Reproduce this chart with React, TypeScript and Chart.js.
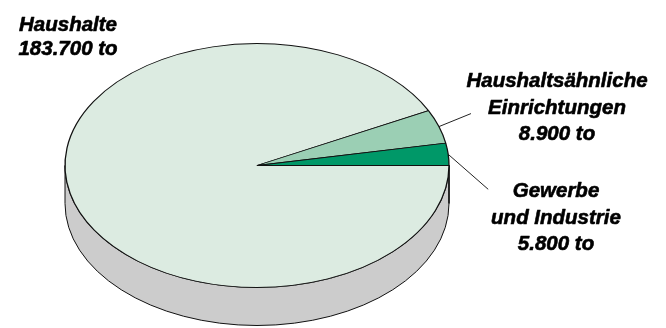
import React, { useEffect, useRef } from "react";
import { Chart, registerables } from "chart.js";

Chart.register(...registerables);

// ---- data ----
const CATEGORIES: string[][] = [
  ["Haushalte"],
  ["Haushaltsähnliche", "Einrichtungen"],
  ["Gewerbe", "und Industrie"],
];
const VALUES: number[] = [183700, 8900, 5800];
const UNIT = "to";

// ---- styles ----
const TOP_COLORS = ["#dcebe1", "#9bcfb4", "#009868"];
const SIDE_COLORS = ["#cccccc", "#7fae95", "#007a54"];

// ---- layout (screen geometry of the tilted pie) ----
const CX = 257;
const CY = 165.5;
const RX = 192;
const RY = 122;
const DEPTH = 38;

const LABEL_LAYOUT = [
  { x: 68, y: 31, lh: 24, leader: null as null | [number, number] },
  { x: 557, y: 87, lh: 26.5, leader: [32, -13] as [number, number] },
  { x: 556, y: 197, lh: 26.5, leader: [40, 35] as [number, number] },
];

const FONT = 'italic bold 20.5px "Liberation Sans", Arial, sans-serif';

const fmt = (v: number) =>
  String(v).replace(/\B(?=(\d{3})+(?!\d))/g, ".") + " " + UNIT;

const pie3d = {
  id: "pie3d",
  beforeDatasetsDraw(chart: any) {
    const ctx = chart.ctx as CanvasRenderingContext2D;
    const meta = chart.getDatasetMeta(0);
    const arcs = meta.data as any[];
    if (!arcs.length) return;
    const a0 = arcs[0];
    const R = a0.outerRadius;
    // side wall (front half: angles 0..PI)
    ctx.save();
    arcs.forEach((arc, i) => {
      for (const shift of [0, -2 * Math.PI, 2 * Math.PI]) {
        const s = Math.max(arc.startAngle + shift, 0);
        const e = Math.min(arc.endAngle + shift, Math.PI);
        if (e <= s) continue;
        ctx.beginPath();
        ctx.moveTo(CX + RX * Math.cos(s), CY + RY * Math.sin(s));
        ctx.ellipse(CX, CY, RX, RY, 0, s, e, false);
        ctx.lineTo(CX + RX * Math.cos(e), CY + DEPTH + RY * Math.sin(e));
        ctx.ellipse(CX, CY + DEPTH, RX, RY, 0, e, s, true);
        ctx.closePath();
        ctx.fillStyle = SIDE_COLORS[i];
        ctx.fill();
        ctx.lineWidth = 1;
        ctx.strokeStyle = "#111";
        ctx.stroke();
      }
    });
    ctx.restore();
    // tilt transform for the top surface
    ctx.save();
    ctx.translate(CX, CY);
    ctx.scale(RX / R, RY / R);
    ctx.translate(-a0.x, -a0.y);
  },
  afterDatasetsDraw(chart: any) {
    chart.ctx.restore();
  },
  afterDraw(chart: any) {
    const ctx = chart.ctx as CanvasRenderingContext2D;
    const arcs = chart.getDatasetMeta(0).data as any[];
    ctx.save();
    ctx.font = FONT;
    ctx.textAlign = "center";
    ctx.textBaseline = "alphabetic";
    arcs.forEach((arc, i) => {
      const L = LABEL_LAYOUT[i];
      if (L.leader) {
        const m = (arc.startAngle + arc.endAngle) / 2;
        const sx = CX + RX * Math.cos(m);
        const sy = CY + RY * Math.sin(m);
        ctx.beginPath();
        ctx.moveTo(sx, sy);
        ctx.lineTo(sx + L.leader[0], sy + L.leader[1]);
        ctx.lineWidth = 1;
        ctx.strokeStyle = "#222";
        ctx.stroke();
      }
      const lines = [...CATEGORIES[i], fmt(VALUES[i])];
      ctx.fillStyle = "#000";
      ctx.strokeStyle = "#000";
      ctx.lineWidth = 0.6;
      ctx.lineJoin = "round";
      lines.forEach((t, k) => {
        ctx.fillText(t, L.x, L.y + k * L.lh);
        ctx.strokeText(t, L.x, L.y + k * L.lh);
      });
    });
    ctx.restore();
  },
};

export default function App() {
  const ref = useRef<HTMLCanvasElement>(null);
  useEffect(() => {
    const chart = new Chart(ref.current!, {
      type: "pie",
      data: {
        labels: CATEGORIES.map((l) => l.join(" ")),
        datasets: [
          {
            data: VALUES,
            backgroundColor: TOP_COLORS,
            borderColor: "#111",
            borderWidth: 1.1,
            clip: false as any,
          },
        ],
      },
      options: {
        responsive: false,
        animation: false,
        events: [],
        rotation: 90,
        plugins: { legend: { display: false }, tooltip: { enabled: false } },
      },
      plugins: [pie3d],
    });
    return () => chart.destroy();
  }, []);
  return (
    <div style={{ position: "fixed", left: 0, top: 0, width: 666, height: 328, background: "#fff" }}>
      <canvas ref={ref} width={666} height={328} />
    </div>
  );
}
